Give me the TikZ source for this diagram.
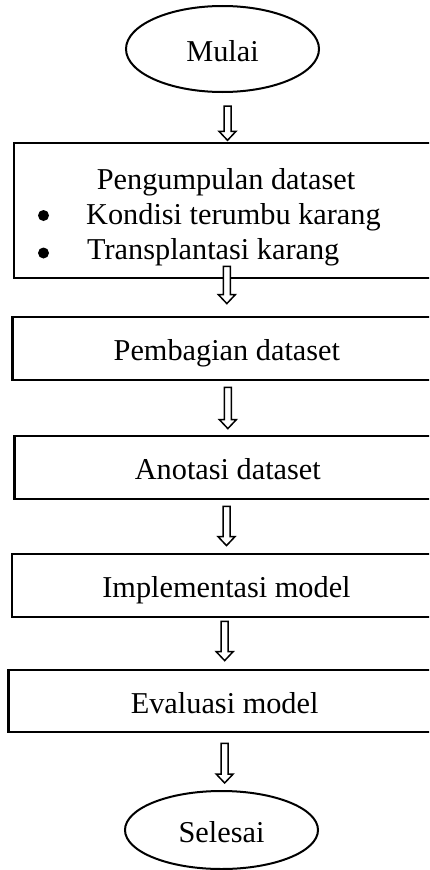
\documentclass[tikz,border=0pt]{standalone}
\usepackage{fontspec}
\setmainfont{Liberation Serif}
\usetikzlibrary{shapes.geometric,calc}

\tikzset{
  every node/.style={font=\fontsize{30.3}{36}\selectfont},
  terminal/.style={draw, line width=2pt, ellipse, inner sep=0pt,
    minimum width=193pt, text height=24pt, text depth=0pt},
  stepbox/.style={draw, line width=2.8pt, rectangle, inner sep=0pt,
    text height=24pt, text depth=0pt},
  plaintext/.style={inner sep=0pt},
  bulletdot/.style={circle, fill=black, inner sep=0pt, minimum size=11pt},
  flowarrowstyle/.style={draw, line width=1.5pt, line join=miter, fill=white},
}

% hollow block arrow: #1 source node, #2 target node, #3 node giving the x position,
% #4 offset below the source's south anchor, #5 gap above the target's north anchor
\newcommand{\flowarrow}[5]{%
  \draw[flowarrowstyle]
    let \p1=($(#1.south)+(0,#4)$), \p2=($(#2.north)+(0,-#5)$), \p3=(#3) in
    (\x3-3.5pt,\y1) -- (\x3-3.5pt,\y2+9pt) -- (\x3-8.5pt,\y2+9pt) -- (\x3,\y2)
    -- (\x3+8.5pt,\y2+9pt) -- (\x3+3.5pt,\y2+9pt) -- (\x3+3.5pt,\y1) -- cycle;}

\begin{document}
\begin{tikzpicture}[x=1pt,y=-1pt]
  \useasboundingbox (0,0) rectangle (429,870);
  \clip (0,0) rectangle (429,870);

  % start and end terminals
  \node[terminal, minimum height=86pt] (mulai) at (222.5,49) {Mulai};
  \node[terminal, minimum height=78pt] (selesai) at (221.5,830) {Selesai};

  % process steps (they run past the right edge)
  \node[stepbox, minimum width=427pt, minimum height=135pt] (kumpul) at (227.5,210.5) {};
  \node[stepbox, minimum width=428.3pt, minimum height=63pt] (bagi) at (226.85,348.5) {Pembagian dataset};
  \node[stepbox, minimum width=426.3pt, minimum height=63pt] (anotasi) at (227.85,467.5) {Anotasi dataset};
  \node[stepbox, minimum width=429pt, minimum height=63pt] (implementasi) at (226.5,585.5) {Implementasi model};
  \node[stepbox, minimum width=432.7pt, minimum height=62pt] (evaluasi) at (224.65,701) {Evaluasi model};

  % contents of the data-collection step
  \node[plaintext, anchor=base] (judul) at (226,189.5) {Pengumpulan dataset};
  \node[bulletdot] (bullet1) at (43.5,215.5) {};
  \node[plaintext, anchor=base west] (item1) at (86,224) {Kondisi terumbu karang};
  \node[bulletdot] (bullet2) at (43.5,253) {};
  \node[plaintext, anchor=base west] (item2) at (87,259) {Transplantasi karang};

  % connectors
  \flowarrow{mulai}{kumpul}{kumpul.north}{13}{1.3}
  \flowarrow{kumpul}{bagi}{bagi.north}{-13}{12}
  \flowarrow{bagi}{anotasi}{anotasi.north}{6}{6}
  \flowarrow{anotasi}{implementasi}{implementasi.north}{6}{7}
  \flowarrow{implementasi}{evaluasi}{evaluasi.north}{3}{8}
  \flowarrow{evaluasi}{selesai}{evaluasi.south}{10}{7}
\end{tikzpicture}
\end{document}
